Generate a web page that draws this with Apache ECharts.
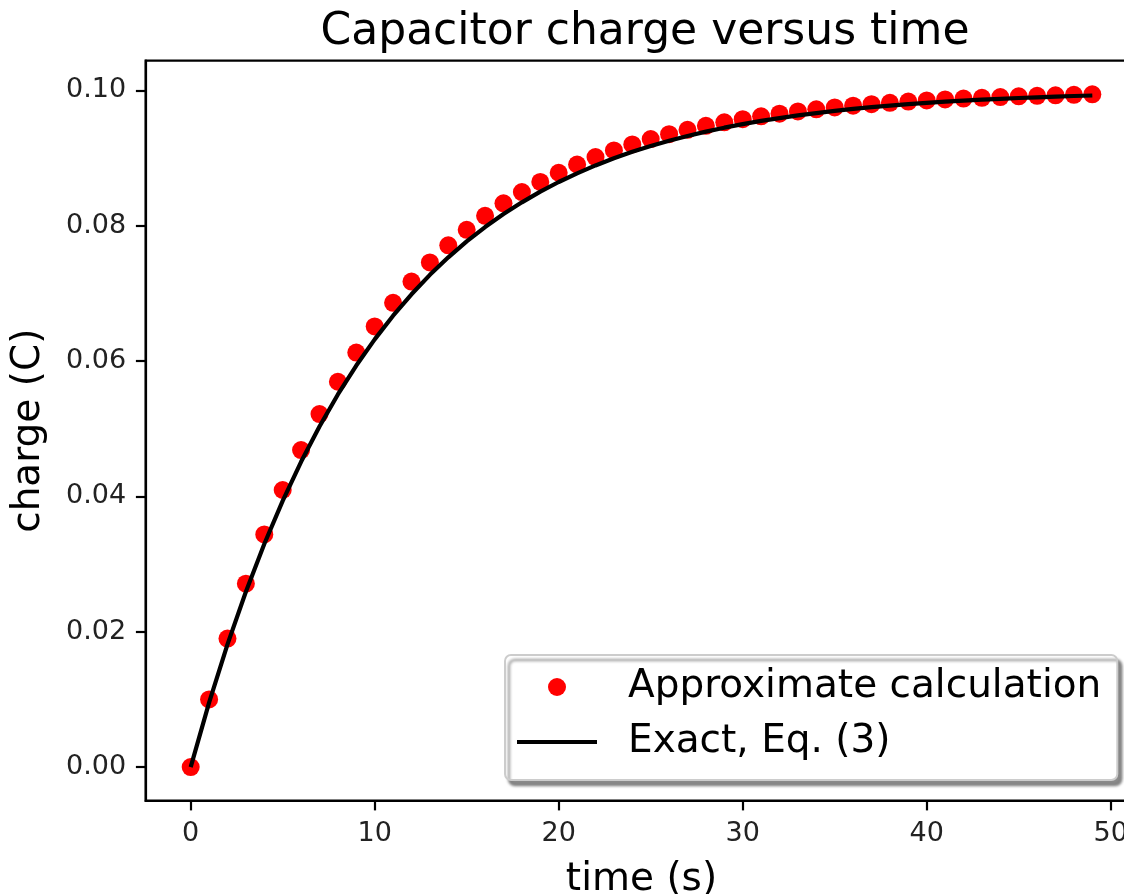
<!DOCTYPE html>
<html>
<head>
<meta charset="utf-8">
<title>Capacitor charge versus time</title>
<script src="https://cdn.jsdelivr.net/npm/echarts@6/dist/echarts.min.js"></script>
<style>
  html, body { margin: 0; padding: 0; background: #fff; }
  #main { width: 1124px; height: 894px; }
</style>
</head>
<body>
<div id="main"></div>
<script>
// time steps (s)
const times = [0,1,2,3,4,5,6,7,8,9,10,11,12,13,14,15,16,17,18,19,20,21,22,23,24,
  25,26,27,28,29,30,31,32,33,34,35,36,37,38,39,40,41,42,43,44,45,46,47,48,49]
// approximate (step by step) charge, C
const approxCharge = [0,0.01,0.019,0.0271,0.03439,0.04095,0.04686,0.05217,0.05695,0.06126,
  0.06513,0.06862,0.07176,0.07458,0.07712,0.07941,0.08147,0.08332,0.08499,0.08649,
  0.08784,0.08906,0.09015,0.09114,0.09202,0.09282,0.09354,0.09419,0.09477,0.09529,
  0.09576,0.09618,0.09657,0.09691,0.09722,0.0975,0.09775,0.09797,0.09818,0.09836,
  0.09852,0.09867,0.0988,0.09892,0.09903,0.09913,0.09921,0.09929,0.09936,0.09943]
// exact charge, Eq. (3)
const exactCharge = [0,0.00952,0.01813,0.02592,0.03297,0.03935,0.04512,0.05034,0.05507,0.05934,
  0.06321,0.06671,0.06988,0.07275,0.07534,0.07769,0.07981,0.08173,0.08347,0.08504,
  0.08647,0.08775,0.08892,0.08997,0.09093,0.09179,0.09257,0.09328,0.09392,0.0945,
  0.09502,0.0955,0.09592,0.09631,0.09666,0.09698,0.09727,0.09753,0.09776,0.09798,
  0.09817,0.09834,0.0985,0.09864,0.09877,0.09889,0.09899,0.09909,0.09918,0.09926]
// tick labels
const xTicks = [0,10,20,30,40,50]
const yTicks = [0,0.02,0.04,0.06,0.08,0.1]

const font = 'DejaVu Sans'
const chart = echarts.init(document.getElementById('main'), null, { renderer: 'canvas' })

const option = {
  backgroundColor: '#fff',
  animation: false,
  textStyle: { fontFamily: font },
  title: {
    text: 'Capacitor charge versus time',
    left: 640,
    top: 6,
    textAlign: 'center',
    textStyle: { fontFamily: font, fontSize: 44, fontWeight: 'normal', color: '#000' }
  },
  grid: {
    left: 145.6,
    top: 60.7,
    width: 991.8,
    height: 740,
    show: true,
    borderColor: '#000',
    borderWidth: 2.2,
    outerBoundsMode: 'none'
  },
  legend: {
    orient: 'vertical',
    left: 505,
    top: 655,
    padding: [10, 16, 16, 12],
    itemWidth: 80,
    itemHeight: 18,
    itemGap: 11,
    backgroundColor: '#fff',
    borderColor: '#ccc',
    borderWidth: 2,
    borderRadius: 6,
    shadowColor: 'rgba(0,0,0,0.45)',
    shadowBlur: 3,
    shadowOffsetX: 4,
    shadowOffsetY: 5,
    textStyle: { fontFamily: font, fontSize: 39, color: '#000', lineHeight: 44, padding: [0, 0, 0, 26] },
    data: [
      { name: 'Approximate calculation', icon: 'circle' },
      // plain line, no marker in the middle
      { name: 'Exact, Eq. (3)', icon: 'path://M0,0 L80,0 L80,4.2 L0,4.2 Z' }
    ]
  },
  xAxis: {
    type: 'value',
    min: -2.45,
    max: 51.45,
    name: 'time (s)',
    nameLocation: 'middle',
    nameGap: 60,
    nameTextStyle: { fontFamily: font, fontSize: 39, color: '#000' },
    axisLine: { show: true, onZero: false, lineStyle: { color: '#000', width: 2.2 } },
    axisTick: { show: true, inside: false, length: 9.7, lineStyle: { color: '#000', width: 2.2 }, customValues: xTicks },
    axisLabel: { margin: 19.4, fontFamily: font, fontSize: 27, color: '#222', customValues: xTicks },
    splitLine: { show: false }
  },
  yAxis: {
    type: 'value',
    min: -0.00497,
    max: 0.1044,
    name: 'charge (C)',
    nameLocation: 'middle',
    nameGap: 97,
    nameTextStyle: { fontFamily: font, fontSize: 39, color: '#000' },
    axisLine: { show: true, onZero: false, lineStyle: { color: '#000', width: 2.2 } },
    axisTick: { show: true, inside: false, length: 9.7, lineStyle: { color: '#000', width: 2.2 }, customValues: yTicks },
    axisLabel: {
      margin: 19.4, fontFamily: font, fontSize: 27, color: '#222', customValues: yTicks,
      formatter: v => v.toFixed(2)
    },
    splitLine: { show: false }
  },
  series: [
    {
      name: 'Approximate calculation',
      type: 'scatter',
      symbol: 'circle',
      symbolSize: 18,
      itemStyle: { color: '#ff0000', opacity: 1 },
      data: times.map((t, i) => [t, approxCharge[i]])
    },
    {
      name: 'Exact, Eq. (3)',
      type: 'line',
      symbol: 'none',
      smooth: false,
      lineStyle: { color: '#000', width: 4.2 },
      itemStyle: { color: '#000' },
      data: times.map((t, i) => [t, exactCharge[i]])
    }
  ]
}

chart.setOption(option)
</script>
</body>
</html>
